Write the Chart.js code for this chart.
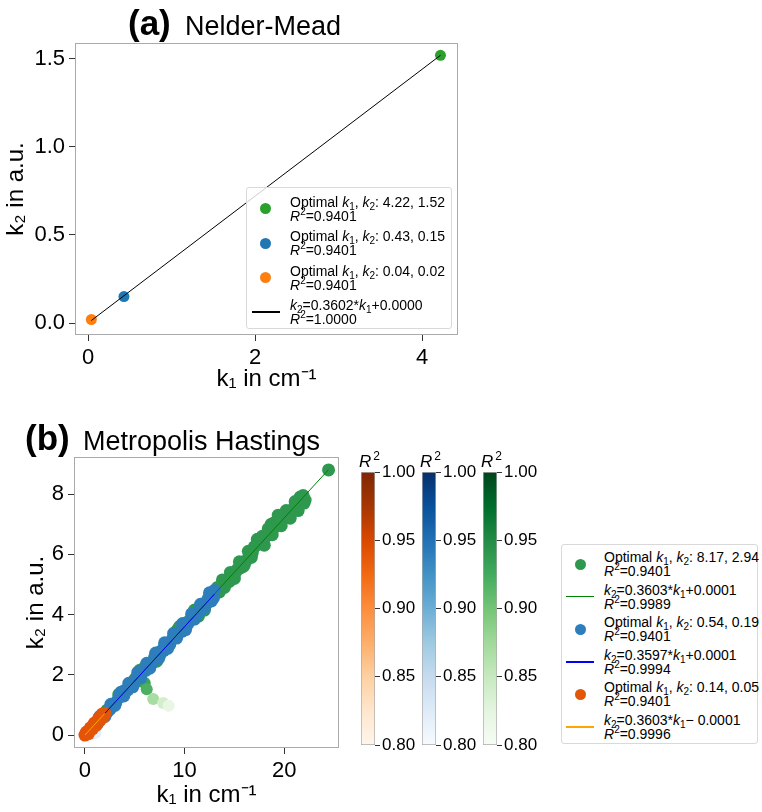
<!DOCTYPE html>
<html>
<head>
<meta charset="utf-8">
<script src="https://cdn.jsdelivr.net/npm/chart.js"></script>
<style>
  body { margin: 0; background: #fff; width: 762px; height: 812px; position: relative; overflow: hidden;
         font-family: "Liberation Sans", Arial, sans-serif; }
  canvas { position: absolute; }
  .legend { position: absolute; border: 1px solid #d9d9d9; border-radius: 3px; background: rgba(255,255,255,0.8);
            box-sizing: border-box; font-size: 14px; color: #000; }
  .mk { position: absolute; width: 11px; height: 11px; border-radius: 50%; }
  .ln { position: absolute; height: 1.5px; }
  .tx { position: absolute; line-height: 14px; white-space: nowrap; }
  sub, sup { font-size: 10px; line-height: 0; position: relative; vertical-align: baseline; }
  sub { top: 3px; }
  sup { top: -6px; }
</style>
</head>
<body>
<canvas id="chartA" width="470" height="396" style="left:0;top:0"></canvas>
<canvas id="chartB" width="350" height="412" style="left:0;top:400px"></canvas>
<canvas id="cbOrange" width="62" height="320" style="left:359px;top:440px"></canvas>
<canvas id="cbBlue" width="62" height="320" style="left:420px;top:440px"></canvas>
<canvas id="cbGreen" width="62" height="320" style="left:481px;top:440px"></canvas>
<div id="legendA" class="legend" style="left:246px;top:187px;width:206px;height:142px"></div>
<div id="legendB" class="legend" style="left:561px;top:544px;width:197px;height:200px"></div>
<script>
// (a) Nelder-Mead optima
const nmK1 = [4.22, 0.43, 0.04];
const nmK2 = [1.52, 0.15, 0.02];
const nmColors = ['#2ca02c', '#1f77b4', '#ff7f0e'];
const nmFitK1 = [0.04, 4.22];
const nmFitK2 = [0.0144, 1.52];
const nmOpt = [['4.22', '1.52'], ['0.43', '0.15'], ['0.04', '0.02']];
const nmOptR2 = '0.9401';
const nmFit = ['0.3602', '+0.0000', '1.0000'];

// (b) Metropolis Hastings samples [k1, k2]
const mhGreen = [[2.2,0.82],[3.0,1.05],[3.4,1.35],[3.8,1.4],[4.5,1.58],[5.0,1.85],[5.3,1.95],[5.4,1.8],[5.5,2.15],
  [5.6,1.98],[6.0,2.25],[6.4,2.3],[7.0,2.6],[7.2,2.45],[7.5,2.65],[8.0,2.95],[8.5,3.0],[9.0,3.3],[9.3,3.5],
  [9.5,3.6],[9.8,3.45],[10.3,3.75],[10.8,3.85],[11.0,4.15],[11.2,4.1],[11.4,3.95],[11.8,4.3],[12.0,4.15],
  [12.2,4.35],[12.6,4.7],[13.0,4.75],[13.3,4.9],[13.5,4.75],[13.8,5.15],[14.0,4.9],[14.2,5.05],[14.5,5.1],
  [14.6,5.4],[14.8,5.3],[15.0,5.2],[15.1,5.4],[15.3,5.5],[15.5,5.75],[15.6,5.55],[15.9,5.6],[16.0,5.65],
  [16.2,5.8],[16.4,6.1],[16.5,5.95],[16.7,5.9],[16.8,6.05],[17.0,6.25],[17.2,6.3],[17.3,6.5],[17.4,6.45],
  [17.6,6.35],[17.8,6.6],[17.9,6.45],[18.0,6.3],[18.2,6.6],[18.4,6.85],[18.5,6.65],[18.7,7.0],[18.8,6.65],
  [18.9,6.85],[19.0,7.05],[19.2,6.95],[19.4,7.3],[19.5,7.1],[19.7,6.95],[19.8,7.2],[20.1,7.3],[20.2,7.45],
  [20.4,7.25],[20.6,7.2],[20.7,7.4],[21.0,7.55],[21.1,7.75],[21.3,7.6],[21.4,7.45],[21.6,7.9],[21.8,7.75],
  [21.9,7.95],[22.0,7.7],[22.1,7.8],[24.45,8.8]];
const mhGreenLow = [[6.0,1.73],[6.2,1.52],[6.85,1.2],[7.85,1.06],[8.4,0.97]];
const mhGreenLowR2 = [0.93, 0.92, 0.87, 0.84, 0.82];
const mhBlue = [[0.9,0.22],[1.3,0.4],[1.5,0.62],[1.8,0.6],[2.0,0.62],[2.2,0.75],[2.5,0.85],[2.6,1.02],[2.8,1.0],
  [3.0,0.98],[3.1,1.08],[3.4,1.25],[3.6,1.42],[3.7,1.3],[3.9,1.3],[4.0,1.48],[4.3,1.5],[4.4,1.72],[4.6,1.7],
  [4.8,1.6],[4.9,1.72],[5.2,1.92],[5.3,2.08],[5.5,1.95],[5.6,1.9],[5.8,2.12],[6.1,2.15],[6.2,2.38],[6.4,2.35],
  [6.5,2.22],[6.7,2.38],[7.0,2.55],[7.1,2.72],[7.3,2.6],[7.4,2.55],[7.6,2.78],[7.9,2.8],[8.0,3.06],[8.2,3.0],
  [8.3,2.88],[8.5,3.02],[8.8,3.2],[8.9,3.38],[9.1,3.25],[9.2,3.22],[9.4,3.4],[9.7,3.45],[9.8,3.7],[10.0,3.62],
  [10.1,3.5],[10.3,3.68],[10.6,3.82],[10.7,4.02],[10.9,3.9],[11.0,3.85],[11.2,4.05],[11.5,4.1],[11.6,4.34],
  [11.8,4.2],[12.0,4.22],[12.1,4.4],[12.4,4.55],[12.5,4.72],[12.7,4.45],[12.8,4.6],[12.9,4.55],[13.0,4.8]];
const mhBlueLow = [[0.8,0.05],[1.05,0.08]];
const mhBlueLowR2 = [0.84, 0.82];
const mhOrange = [[0.0,0.0],[0.1,0.03],[0.15,0.1],[0.2,0.06],[0.3,0.1],[0.35,0.05],[0.4,0.14],[0.5,0.17],
  [0.55,0.24],[0.6,0.22],[0.7,0.25],[0.75,0.2],[0.8,0.28],[0.9,0.33],[0.95,0.4],[1.0,0.36],[1.1,0.39],
  [1.15,0.33],[1.2,0.43],[1.3,0.47],[1.35,0.54],[1.4,0.5],[1.5,0.55],[1.55,0.5],[1.6,0.57],[1.7,0.62],
  [1.75,0.7],[1.8,0.65],[1.85,0.6],[1.9,0.68],[2.0,0.72]];
const mhSampleR2 = 0.9401;
const mhGreenFitK1 = [2.0, 24.45], mhGreenFitK2 = [0.7207, 8.810];
const mhBlueFitK1 = [2.0, 13.0], mhBlueFitK2 = [0.7195, 4.677];
const mhOrangeFitK1 = [0.0, 2.0], mhOrangeFitK2 = [-0.0001, 0.7205];
const mhOpt = [['8.17', '2.94'], ['0.54', '0.19'], ['0.14', '0.05']];
const mhFits = [['0.3603', '+0.0001', '0.9989'], ['0.3597', '+0.0001', '0.9994'], ['0.3603', '\u2212 0.0001', '0.9996']];

// ticks
const aTicksX = [0, 2, 4], aTicksY = [0, 0.5, 1.0, 1.5];
const bTicksX = [0, 10, 20], bTicksY = [0, 2, 4, 6, 8];
const cbTicks = [0.80, 0.85, 0.90, 0.95, 1.00];

// colormaps
const ORANGES = ['#fff5eb','#fee6ce','#fdd0a2','#fdae6b','#fd8d3c','#f16913','#d94801','#a63603','#7f2704'];
const BLUES = ['#f7fbff','#deebf7','#c6dbef','#9ecae1','#6baed6','#4292c6','#2171b5','#08519c','#08306b'];
const GREENS = ['#f7fcf5','#e5f5e0','#c7e9c0','#a1d99b','#74c476','#41ab5d','#238b45','#006d2c','#00441b'];

function hexRgb(h) { return [1, 3, 5].map(i => parseInt(h.substr(i, 2), 16)); }
function cmap(stops, r2) {
  const t = Math.min(1, Math.max(0, (r2 - 0.8) / 0.2));
  const p = t * (stops.length - 1);
  const i = Math.min(stops.length - 2, Math.floor(p));
  const f = p - i;
  const a = hexRgb(stops[i]), b = hexRgb(stops[i + 1]);
  return 'rgb(' + a.map((v, k) => Math.round(v + (b[k] - v) * f)).join(',') + ')';
}

Chart.defaults.font.family = '"Liberation Sans", Arial, sans-serif';
Chart.defaults.color = '#000';
Chart.defaults.animation = false;

const framePlugin = {
  id: 'frame',
  afterDraw(chart, args, o) {
    if (!o || !o.color) return;
    const { ctx, chartArea: a } = chart;
    ctx.save();
    ctx.strokeStyle = o.color;
    ctx.lineWidth = 1;
    ctx.strokeRect(Math.round(a.left) + 0.5, Math.round(a.top) + 0.5, Math.round(a.right - a.left) - 1, Math.round(a.bottom - a.top) - 1);
    ctx.restore();
  }
};

const panelTitle = {
  id: 'panelTitle',
  afterDraw(chart, args, o) {
    if (!o || !o.tag) return;
    const ctx = chart.ctx;
    ctx.save();
    ctx.fillStyle = '#000';
    ctx.textBaseline = 'alphabetic';
    ctx.font = 'bold 35px "Liberation Sans", Arial, sans-serif';
    ctx.fillText(o.tag, o.tagX, o.y);
    ctx.font = '27px "Liberation Sans", Arial, sans-serif';
    ctx.fillText(o.text, o.textX, o.y);
    ctx.restore();
  }
};

const cbLabel = {
  id: 'cbLabel',
  afterDraw(chart, args, o) {
    if (!o || !o.show) return;
    const ctx = chart.ctx, a = chart.chartArea;
    ctx.save();
    ctx.fillStyle = '#000';
    ctx.textBaseline = 'alphabetic';
    ctx.font = 'italic 17px "Liberation Sans", Arial, sans-serif';
    ctx.fillText('R', a.left - 2, a.top - 5);
    const w = ctx.measureText('R').width;
    ctx.font = '12px "Liberation Sans", Arial, sans-serif';
    ctx.fillText('2', a.left - 2 + w + 2, a.top - 12);
    ctx.restore();
  }
};

Chart.register(framePlugin, panelTitle, cbLabel);

function axisOpts(min, max, ticks, digits, title, size, isX, titlePad) {
  return {
    type: 'linear', min, max,
    afterBuildTicks: s => { s.ticks = ticks.map(v => ({ value: v })); },
    afterFit: s => { if (isX) s.height = size; else s.width = size; },
    ticks: { font: { size: 22 }, padding: 4, color: '#000', autoSkip: false, maxRotation: 0,
             callback: v => v.toFixed(digits) },
    grid: { drawOnChartArea: false, drawTicks: true, tickLength: 6, color: '#333' },
    border: { display: false },
    title: { display: true, text: title, font: { size: 24 }, color: '#000', padding: { top: titlePad, bottom: 2 } }
  };
}

const pts = arr => arr.map(p => ({ x: p[0], y: p[1] }));
const line2 = (xs, ys) => xs.map((x, i) => ({ x, y: ys[i] }));

// (a)
new Chart(document.getElementById('chartA'), {
  type: 'scatter',
  data: {
    datasets: [
      { type: 'line', data: line2(nmFitK1, nmFitK2), borderColor: '#000', borderWidth: 1, pointRadius: 0, fill: false },
      ...nmK1.map((x, i) => ({ data: [{ x, y: nmK2[i] }], backgroundColor: nmColors[i], pointRadius: 5.5, borderWidth: 0 }))
    ]
  },
  options: {
    responsive: false,
    layout: { padding: { top: 43, right: 12, left: 0, bottom: 0 } },
    plugins: {
      legend: { display: false }, tooltip: { enabled: false },
      frame: { color: '#aaa' },
      panelTitle: { tag: '(a)', text: 'Nelder-Mead', tagX: 128, textX: 185, y: 35 }
    },
    scales: {
      x: axisOpts(-0.156, 4.43, aTicksX, 0, 'k\u2081 in cm\u207B\u00B9', 61, true, 2),
      y: axisOpts(-0.068, 1.59, aTicksY, 1, 'k\u2082 in a.u.', 75, false, 2)
    }
  }
});

// (b)
const colG = cmap(GREENS, mhSampleR2), colB = cmap(BLUES, mhSampleR2), colO = cmap(ORANGES, mhSampleR2);
const scatterSet = (arr, colors, r) => ({ data: pts(arr), pointBackgroundColor: colors, pointRadius: r, pointBorderWidth: 0, borderWidth: 0 });
const fitSet = (xs, ys, color) => ({ type: 'line', data: line2(xs, ys), borderColor: color, borderWidth: 1, pointRadius: 0, fill: false });

new Chart(document.getElementById('chartB'), {
  type: 'scatter',
  data: {
    datasets: [
      fitSet(mhOrangeFitK1, mhOrangeFitK2, '#ffa500'),
      fitSet(mhBlueFitK1, mhBlueFitK2, '#0000ff'),
      fitSet(mhGreenFitK1, mhGreenFitK2, '#008000'),
      scatterSet(mhOrange, colO, 6.5),
      scatterSet(mhBlueLow, mhBlueLowR2.map(r => cmap(BLUES, r)), 6),
      scatterSet(mhBlue, colB, 6.5),
      scatterSet(mhGreenLow, mhGreenLowR2.map(r => cmap(GREENS, r)), 6),
      scatterSet(mhGreen, colG, 6.5)
    ]
  },
  options: {
    responsive: false,
    layout: { padding: { top: 57, right: 11, left: 0, bottom: 0 } },
    plugins: {
      legend: { display: false }, tooltip: { enabled: false },
      frame: { color: '#aaa' },
      panelTitle: { tag: '(b)', text: 'Metropolis Hastings', tagX: 25, textX: 83, y: 50 }
    },
    scales: {
      x: axisOpts(-1.1, 25.5, bTicksX, 0, 'k\u2081 in cm\u207B\u00B9', 64, true, 2),
      y: axisOpts(-0.43, 9.23, bTicksY, 0, 'k\u2082 in a.u.', 74, false, 22)
    }
  }
});

// colorbars
function colorbar(id, stops) {
  new Chart(document.getElementById(id), {
    type: 'bar',
    data: {
      labels: [''],
      datasets: [{
        data: [[cbTicks[0], cbTicks[cbTicks.length - 1]]],
        backgroundColor: c => {
          const a = c.chart.chartArea;
          if (!a) return stops[4];
          const g = c.chart.ctx.createLinearGradient(0, a.bottom, 0, a.top);
          stops.forEach((s, i) => g.addColorStop(i / (stops.length - 1), s));
          return g;
        },
        borderColor: '#aaa', borderWidth: 1, borderSkipped: false,
        barPercentage: 1, categoryPercentage: 1
      }]
    },
    options: {
      responsive: false,
      layout: { padding: { left: 2, top: 32, bottom: 15, right: 0 } },
      plugins: { legend: { display: false }, tooltip: { enabled: false }, cbLabel: { show: true } },
      scales: {
        x: { display: false },
        y: {
          position: 'right', min: cbTicks[0], max: cbTicks[cbTicks.length - 1],
          afterBuildTicks: s => { s.ticks = cbTicks.map(v => ({ value: v })); },
          afterFit: s => { s.width = 46; },
          ticks: { font: { size: 17 }, padding: 2, color: '#000', callback: v => v.toFixed(2) },
          grid: { drawOnChartArea: false, tickLength: 5, color: '#333' },
          border: { display: false }
        }
      }
    }
  });
}
colorbar('cbOrange', ORANGES);
colorbar('cbBlue', BLUES);
colorbar('cbGreen', GREENS);

// legends
const optHtml = (k, r2) => 'Optimal <i>k</i><sub>1</sub>, <i>k</i><sub>2</sub>: ' + k[0] + ', ' + k[1] +
  '<br><i>R</i><sup>2</sup>=' + r2;
const fitHtml = f => '<i>k</i><sub>2</sub>=' + f[0] + '*<i>k</i><sub>1</sub>' + f[1] + '<br><i>R</i><sup>2</sup>=' + f[2];

function buildLegend(box, items, rowH, padTop, mkX, lnX0, lnX1, txX) {
  items.forEach((it, i) => {
    const cy = padTop + rowH * i + rowH / 2;
    if (it.kind === 'point') {
      const m = document.createElement('div');
      m.className = 'mk';
      m.style.cssText = 'left:' + (mkX - 5.5) + 'px;top:' + (cy - 5.5) + 'px;background:' + it.color;
      box.appendChild(m);
    } else {
      const l = document.createElement('div');
      l.className = 'ln';
      l.style.cssText = 'left:' + lnX0 + 'px;width:' + (lnX1 - lnX0) + 'px;top:' + (cy - 0.75) + 'px;background:' + it.color;
      box.appendChild(l);
    }
    const t = document.createElement('div');
    t.className = 'tx';
    t.style.left = txX + 'px';
    t.style.top = (cy - 14) + 'px';
    t.innerHTML = it.html;
    box.appendChild(t);
  });
}

buildLegend(document.getElementById('legendA'), [
  { kind: 'point', color: nmColors[0], html: optHtml(nmOpt[0], nmOptR2) },
  { kind: 'point', color: nmColors[1], html: optHtml(nmOpt[1], nmOptR2) },
  { kind: 'point', color: nmColors[2], html: optHtml(nmOpt[2], nmOptR2) },
  { kind: 'line', color: '#000', html: fitHtml(nmFit) }
], 34.3, 3.8, 18, 5, 33, 43);

buildLegend(document.getElementById('legendB'), [
  { kind: 'point', color: colG, html: optHtml(mhOpt[0], nmOptR2) },
  { kind: 'line', color: '#008000', html: fitHtml(mhFits[0]) },
  { kind: 'point', color: colB, html: optHtml(mhOpt[1], nmOptR2) },
  { kind: 'line', color: '#0000ff', html: fitHtml(mhFits[1]) },
  { kind: 'point', color: colO, html: optHtml(mhOpt[2], nmOptR2) },
  { kind: 'line', color: '#ffa500', html: fitHtml(mhFits[2]) }
], 32.6, 2.7, 18, 4, 32, 42);
</script>
</body>
</html>
